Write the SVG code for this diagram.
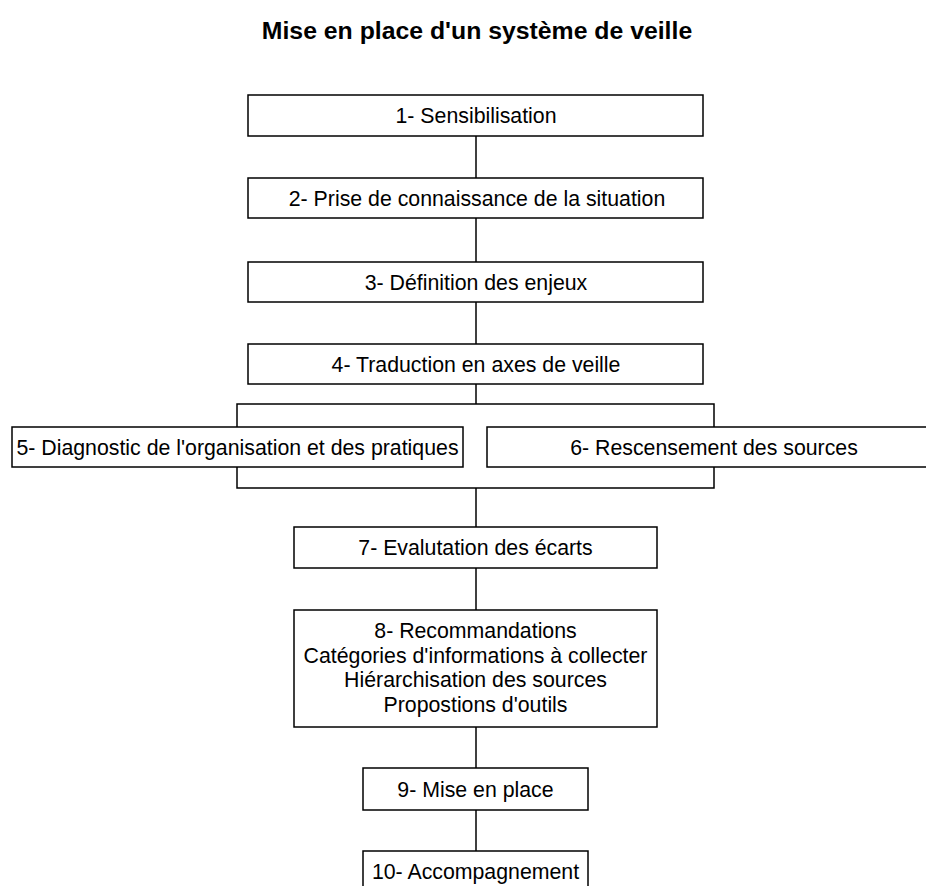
<svg xmlns="http://www.w3.org/2000/svg" width="926" height="886" viewBox="0 0 926 886">
<style>
.box{fill:#fff;stroke:#000;stroke-width:1.5}
.t{font-family:"Liberation Sans",Arial,sans-serif;font-size:21.3px;fill:#000;text-anchor:middle}
.title{font-family:"Liberation Sans",Arial,sans-serif;font-size:24.8px;font-weight:bold;fill:#000;text-anchor:middle}
.c{fill:none;stroke:#000;stroke-width:1.5}
</style>
<rect width="926" height="886" fill="#fff"/>
<text class="title" x="477" y="39">Mise en place d'un système de veille</text>
<g id="connectors">
<line class="c" x1="476" y1="136" x2="476" y2="178"/>
<line class="c" x1="476" y1="218" x2="476" y2="262"/>
<line class="c" x1="476" y1="302" x2="476" y2="344"/>
<line class="c" x1="476" y1="384" x2="476" y2="404"/>
<polyline class="c" points="237,427 237,404 714,404 714,427"/>
<polyline class="c" points="237,467 237,488 714,488 714,467"/>
<line class="c" x1="476" y1="488" x2="476" y2="527"/>
<line class="c" x1="476" y1="568" x2="476" y2="610"/>
<line class="c" x1="476" y1="727" x2="476" y2="768"/>
<line class="c" x1="476" y1="810" x2="476" y2="851"/>
</g>
<g id="n1"><rect class="box" x="248" y="95" width="455" height="41"/><text class="t" x="476" y="123">1- Sensibilisation</text></g>
<g id="n2"><rect class="box" x="248" y="178" width="455" height="40"/><text class="t" x="477" y="205.5">2- Prise de connaissance de la situation</text></g>
<g id="n3"><rect class="box" x="248" y="262" width="455" height="40"/><text class="t" x="476" y="289.5">3- Définition des enjeux</text></g>
<g id="n4"><rect class="box" x="248" y="344" width="455" height="40"/><text class="t" x="476" y="371.5">4- Traduction en axes de veille</text></g>
<g id="n5"><rect class="box" x="12" y="427" width="451" height="40"/><text class="t" x="237.5" y="454.5">5- Diagnostic de l'organisation et des pratiques</text></g>
<g id="n6"><rect class="box" x="487" y="427" width="454" height="40"/><text class="t" x="714" y="454.5">6- Rescensement des sources</text></g>
<g id="n7"><rect class="box" x="294" y="527" width="363" height="41"/><text class="t" x="475.5" y="555">7- Evalutation des écarts</text></g>
<g id="n8"><rect class="box" x="294" y="610" width="363" height="117"/>
<text class="t" x="475.5" y="638">8- Recommandations</text>
<text class="t" x="475.5" y="662.5">Catégories d'informations à collecter</text>
<text class="t" x="475.5" y="687">Hiérarchisation des sources</text>
<text class="t" x="475.5" y="711.5">Propostions d'outils</text></g>
<g id="n9"><rect class="box" x="363" y="768" width="225" height="42"/><text class="t" x="475.5" y="796.5">9- Mise en place</text></g>
<g id="n10"><rect class="box" x="363" y="851" width="225" height="42"/><text class="t" x="475.5" y="879">10- Accompagnement</text></g>
</svg>
